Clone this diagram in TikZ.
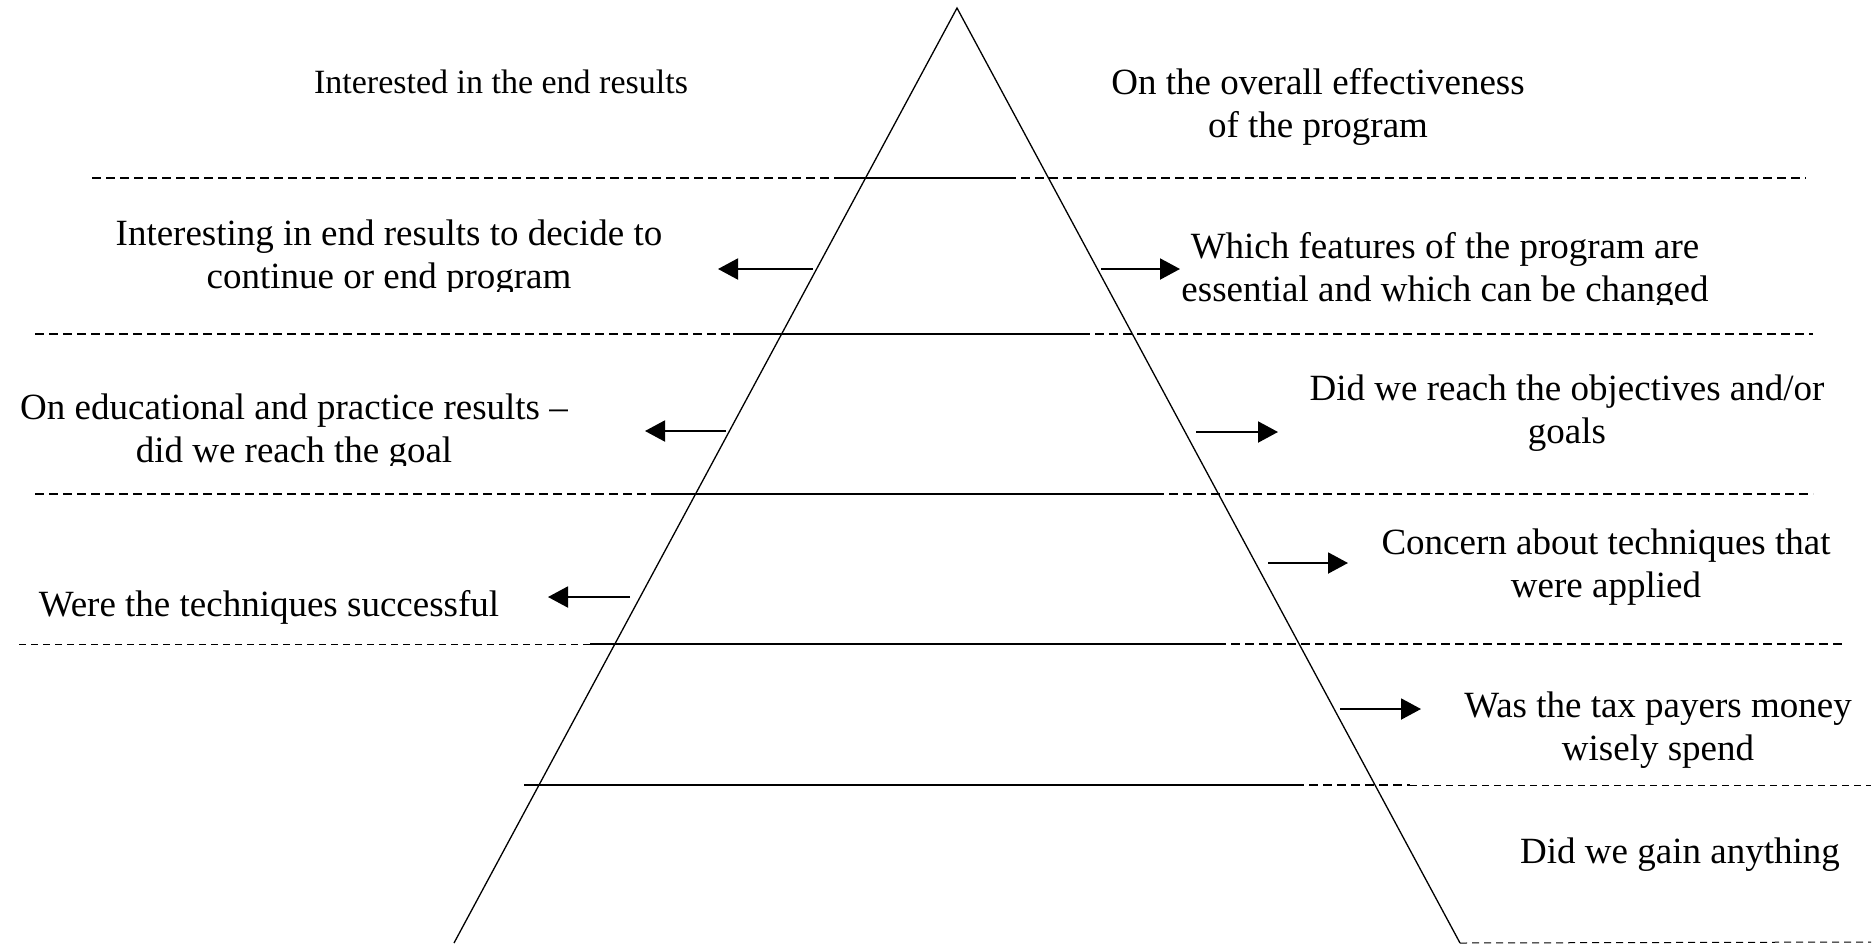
\documentclass[tikz,border=0pt]{standalone}
\usepackage{fontspec}
\setmainfont{Liberation Serif}
\usetikzlibrary{arrows.meta}
\begin{document}
\begin{tikzpicture}[x=1pt,y=-1pt,
  edge/.style={line width=1.3pt},
  solidseg/.style={line width=2pt},
  dashseg/.style={line width=1.5pt, dash pattern=on 9pt off 5pt},
  thindash/.style={line width=1pt, dash pattern=on 7pt off 5pt},
  thickdash/.style={line width=2pt, dash pattern=on 9pt off 5pt},
  arr/.style={line width=2pt, -{Triangle[length=20pt,width=21pt]}},
  lbl/.style={font=\fontsize{37}{43}\selectfont, align=center, anchor=base, inner sep=0pt},
  smalllbl/.style={font=\fontsize{34}{40}\selectfont, align=center, anchor=base, inner sep=0pt},
]
\useasboundingbox (0,0) rectangle (1876,943);

% pyramid
\coordinate (apex) at (957,8);
\coordinate (bl) at (454,943);
\coordinate (br) at (1460,943);
\draw[edge] (bl) -- (apex) -- (br);

% level lines
\draw[dashseg] (92,178) -- (837,178);
\draw[solidseg] (837,178) -- (1007,178);
\draw[dashseg] (1007,178) -- (1806,178);

\draw[dashseg] (35,334) -- (733,334);
\draw[solidseg] (733,334) -- (1081,334);
\draw[dashseg] (1081,334) -- (1813,334);

\draw[dashseg] (35,494) -- (654,494);
\draw[solidseg] (654,494) -- (1155,494);
\draw[dashseg] (1155,494) -- (1813,494);

\draw[thindash] (19,644) -- (590,644);
\draw[solidseg] (590,644) -- (1217,644);
\draw[dashseg] (1217,644) -- (1846,644);

\draw[solidseg] (524,785) -- (1295,785);
\draw[thickdash] (1295,785) -- (1410,785);
\draw[thindash] (1410,785) -- (1871,785);

\draw[thindash] (br) -- (1871,942);

% texts (anchor = baseline of the last line)
\node[smalllbl] (t1) at (501,93) {Interested in the end results};
\node[lbl] (r1) at (1318,137) {On the overall effectiveness\\of the program};
\begin{scope}
  \clip (60,200) rectangle (720,291);
  \node[lbl] (t2) at (389,288) {Interesting in end results to decide to\\continue or end program};
\end{scope}
\begin{scope}
  \clip (1150,210) rectangle (1760,304);
  \node[lbl] (r2) at (1445,301) {Which features of the program are\\essential and which can be changed};
\end{scope}
\begin{scope}
  \clip (0,370) rectangle (640,465);
  \node[lbl] (t3) at (294,462) {On educational and practice results –\\did we reach the goal};
\end{scope}
\node[lbl] (r3) at (1567,443) {Did we reach the objectives and/or\\goals};
\node[lbl] (t4) at (269,616) {Were the techniques successful};
\node[lbl] (r4) at (1606,597) {Concern about techniques that\\were applied};
\node[lbl] (r5) at (1658,760) {Was the tax payers money\\wisely spend};
\node[lbl] (r6) at (1680,863) {Did we gain anything};

% arrows
\coordinate (a1s) at (813,269); \coordinate (a1e) at (718,269);
\coordinate (a2s) at (1101,269); \coordinate (a2e) at (1180,269);
\coordinate (a3s) at (726,431); \coordinate (a3e) at (645,431);
\coordinate (a4s) at (1196,432); \coordinate (a4e) at (1278,432);
\coordinate (a5s) at (630,597); \coordinate (a5e) at (548,597);
\coordinate (a6s) at (1268,563); \coordinate (a6e) at (1348,563);
\coordinate (a7s) at (1340,709); \coordinate (a7e) at (1421,709);
\draw[arr] (a1s) -- (a1e);
\draw[arr] (a2s) -- (a2e);
\draw[arr] (a3s) -- (a3e);
\draw[arr] (a4s) -- (a4e);
\draw[arr] (a5s) -- (a5e);
\draw[arr] (a6s) -- (a6e);
\draw[arr] (a7s) -- (a7e);
\end{tikzpicture}
\end{document}
